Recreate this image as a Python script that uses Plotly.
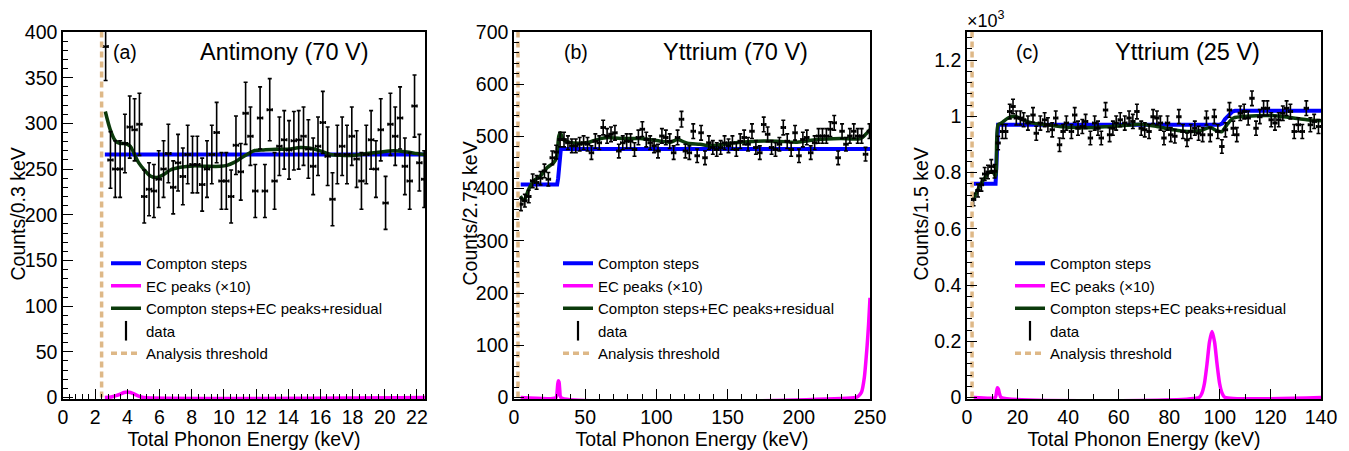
import plotly.graph_objects as go

FONT = "Liberation Sans"
BLUE = "#0000ff"
MAGENTA = "#ff00ff"
GREEN = "#0b3a0b"
TAN = "#deb887"
W, H = 1349, 451

# ---------------- Panel (a): Antimony (70 V) ----------------
a_bin_start, a_bin_width, a_nbins = 2.5, 0.3, 67
a_counts = [384, 260, 250, 250, 278, 296, 293, 299, 220, 228, 226, 239, 250, 267, 230,
            257, 242, 266, 255, 255, 233, 250, 266, 290, 237, 237, 220, 276, 247, 311,
            286, 226, 306, 226, 315, 237, 275, 282, 271, 281, 282, 286, 272, 253, 275,
            301, 264, 217, 266, 275, 266, 286, 261, 237, 266, 282, 250, 293, 213, 299,
            286, 306, 253, 237, 319, 257, 239]
a_err = [37, 31, 31, 31, 32, 34, 34, 34, 29, 29, 29, 31, 31, 32, 29,
         31, 31, 32, 31, 31, 29, 31, 32, 33, 31, 31, 29, 32, 31, 34,
         32, 29, 34, 29, 34, 31, 32, 32, 32, 32, 32, 32, 32, 31, 32,
         34, 32, 29, 32, 32, 32, 32, 31, 31, 32, 32, 31, 34, 29, 34,
         32, 34, 31, 31, 34, 31, 31]
a_step_x = [2.6, 22.5]
a_step_y = [266, 266]
a_ec_x = [2.6, 3.0, 3.3, 3.6, 3.8, 4.0, 4.2, 4.4, 4.7, 5.0, 22.5]
a_ec_y = [0, 0.5, 2, 4, 5.5, 6, 5.5, 4, 1.5, 0, 0]
a_tot_x = [2.63, 2.94, 3.25, 3.56, 3.87, 4.18, 4.39, 4.70, 5.01, 5.43, 5.84, 6.26, 6.67,
           7.29, 8.12, 8.95, 9.78, 10.19, 10.61, 11.02, 11.44, 11.85, 12.47, 13.30,
           14.13, 14.75, 15.37, 15.99, 16.61, 17.24, 18.07, 18.89, 19.72, 20.55,
           21.38, 22.0, 22.46]
a_tot_y = [313, 293, 281, 278, 278, 275, 268, 257, 250, 242.5, 240.7, 244, 249,
           252, 253.5, 253, 253, 254, 257, 261.5, 266, 270, 271, 271.6,
           272, 273.5, 272.7, 270, 266, 265, 265, 267, 268.7, 270,
           268.7, 267, 266]
a_threshold = 2.4

# ---------------- Panel (b): Yttrium (70 V) ----------------
b_bin_start, b_bin_width, b_nbins = 3.5, 2.75, 90
b_counts = [370, 377, 385, 415, 412, 420, 434, 418, 459, 470,
            494, 494, 488, 482, 482, 485, 488, 485, 469, 491,
            488, 517, 501, 504, 507, 472, 488, 491, 491, 475,
            498, 514, 494, 488, 482, 472, 501, 498, 491, 469,
            498, 533, 472, 469, 510, 463, 507, 459, 488, 479,
            475, 479, 488, 482, 488, 475, 491, 498, 485, 510,
            479, 469, 523, 504, 479, 475, 485, 517, 491, 475,
            507, 463, 494, 498, 469, 488, 501, 501, 501, 514,
            526, 459, 510, 485, 501, 510, 501, 501, 466, 510]
b_err = [12, 12, 12, 13, 13, 13, 13, 13, 13, 13,
         14, 14, 13, 13, 13, 13, 13, 13, 13, 14,
         13, 14, 14, 14, 14, 13, 13, 14, 14, 13,
         14, 14, 14, 13, 13, 13, 14, 14, 14, 13,
         14, 15, 13, 13, 14, 13, 14, 13, 13, 13,
         13, 13, 13, 13, 13, 13, 14, 14, 13, 14,
         13, 13, 14, 14, 13, 13, 13, 14, 14, 13,
         14, 13, 14, 14, 13, 13, 14, 14, 14, 14,
         14, 13, 14, 13, 14, 14, 14, 14, 13, 14]
b_step_x = [4.7, 30.3, 31.0, 31.6, 32.3, 32.9, 250]
b_step_y = [408, 408, 420, 440, 462, 476, 476]
b_ec_x = [4.7, 29.5, 30.3, 31.0, 31.6, 32.2, 33.0, 240, 242, 244, 246, 248, 249, 250]
b_ec_y = [0, 0, 12, 32, 30, 12, 0, 0, 3, 10, 38, 100, 140, 191]
b_tot_x = [4.5, 7.0, 10.3, 13.8, 18.5, 23.2, 27.9, 29.8, 31.5, 32.6, 34.5, 38.5, 46.7,
           52.6, 58.5, 65.5, 74.9, 89, 103, 110, 114.8, 121.8, 130.7, 137.8, 147.2,
           158.9, 170.6, 184.7, 198.8, 212.9, 229.3, 243.4, 247, 250]
b_tot_y = [386, 377, 399, 415, 424, 440, 450, 459, 501, 507, 494, 489, 487,
           489, 494, 498, 496, 496, 491, 489, 494, 487, 485, 482, 485,
           489, 491, 491, 489, 494, 496, 496, 504, 513]
b_threshold = 2.8

# ---------------- Panel (c): Yttrium (25 V), counts in units of 10^3 ----------------
c_energy = [2.6, 4.35, 5.7, 7.0, 8.3, 9.6, 10.9, 12.3, 14.0, 15.3, 16.9, 18.2, 19.5,
            21.1, 22.4, 24.1, 26.1, 27.4, 29.0, 30.7, 32.0, 33.7, 35.1, 36.6, 38.0,
            39.3, 41.3, 42.6, 43.9, 45.6, 46.9, 48.8, 50.5, 51.8, 53.1, 54.8, 56.4,
            57.7, 59.0, 60.6, 62.4, 64.1, 65.6, 67.2, 68.9, 70.3, 72.0, 73.6, 75.1,
            76.5, 77.9, 79.3, 80.6, 82.2, 83.8, 85.4, 87.0, 88.5, 90.1, 91.6, 93.2,
            94.7, 96.2, 97.8, 99.2, 100.8, 102.2, 103.8, 105.3, 106.7, 108.1, 109.6,
            111.2, 112.7, 114.3, 115.8, 117.3, 118.8, 120.3, 121.8, 123.3, 124.9,
            126.4, 127.9, 129.4, 131.0, 132.6, 134.2, 135.8, 137.3, 139.0]
c_counts = [0.704, 0.736, 0.757, 0.795, 0.802, 0.822, 0.805, 0.905, 0.946, 0.946,
            1.017, 1.035, 0.994, 0.994, 0.988, 0.976, 1.005, 0.940, 0.976, 0.988,
            0.970, 0.952, 0.994, 0.899, 0.946, 0.976, 0.946, 1.005, 0.958, 0.964,
            0.982, 0.923, 0.976, 0.958, 0.923, 1.023, 0.935, 0.958, 0.976, 0.988,
            0.976, 0.994, 0.982, 1.017, 0.958, 0.952,
            0.946, 0.999, 0.994, 0.976, 0.923, 0.976, 0.935, 0.929, 0.999, 0.946,
            0.917, 0.946, 0.958, 0.940, 0.935, 0.994, 0.935, 0.999, 0.946, 0.893,
            0.952, 1.023, 0.958, 0.935, 1.011, 1.017, 0.994, 1.064, 0.958, 0.999,
            1.029, 1.029, 0.988, 0.976, 0.988, 1.011, 1.029, 1.017, 0.946, 0.970,
            0.946, 1.029, 0.970, 0.982, 0.964]
c_err = [0.022, 0.023, 0.023, 0.023, 0.024, 0.024, 0.024, 0.024, 0.025, 0.025,
         0.026, 0.026, 0.025, 0.025, 0.025, 0.025, 0.026, 0.025, 0.025, 0.025,
         0.025, 0.025, 0.025, 0.024, 0.025, 0.025, 0.025, 0.026, 0.025, 0.025,
         0.025, 0.024, 0.025, 0.025, 0.024, 0.026, 0.025, 0.025, 0.025, 0.025,
         0.025, 0.025, 0.025, 0.026, 0.025, 0.025,
         0.025, 0.025, 0.025, 0.025, 0.024, 0.025, 0.025, 0.024, 0.025, 0.025,
         0.024, 0.025, 0.025, 0.025, 0.025, 0.025, 0.025, 0.025, 0.025, 0.024,
         0.025, 0.026, 0.025, 0.025, 0.026, 0.026, 0.025, 0.026, 0.025, 0.025,
         0.026, 0.026, 0.025, 0.025, 0.025, 0.026, 0.026, 0.026, 0.025, 0.025,
         0.025, 0.026, 0.025, 0.025, 0.025]
c_bin_width = 1.5
c_step_x = [2.7, 11.3, 11.8, 12.3, 99.8, 101.0, 102.0, 103.0, 104.0, 105.0, 106.0, 140]
c_step_y = [0.760, 0.760, 0.865, 0.970, 0.970, 0.975, 0.990, 1.000, 1.010, 1.017, 1.020, 1.020]
c_ec_x = [2.7, 11.2, 11.6, 12.0, 12.4, 12.9, 13.5, 91.9, 92.9, 93.9, 94.9, 95.9, 96.9,
          97.9, 98.9, 99.9, 100.9, 101.9, 140]
c_ec_y = [0, 0, 0.015, 0.035, 0.030, 0.012, 0, 0.001, 0.015, 0.05, 0.118, 0.198, 0.235,
          0.198, 0.118, 0.05, 0.015, 0.001, 0]
c_tot_x = [2.4, 5.0, 7.0, 9.0, 10.3, 11.3, 12.3, 13.6, 16.2, 18.9, 22.1, 26.1, 31.4,
           36.6, 43.2, 49.8, 56.4, 63.0, 68.5, 75.1, 81.7, 87.0, 92.2, 96.2, 98.8,
           100.8, 102.8, 105.4, 110.7, 118.6, 123.9, 129.1, 134.4, 140]
c_tot_y = [0.704, 0.752, 0.781, 0.802, 0.802, 0.787, 0.970, 0.976, 0.994, 1.0, 0.988,
           0.976, 0.970, 0.964, 0.960, 0.960, 0.964, 0.968, 0.972, 0.964, 0.952, 0.946,
           0.949, 0.960, 0.949, 0.946, 0.970, 0.994, 1.0, 1.003, 1.0, 0.994, 0.988, 0.984]
c_threshold = 2.0

NAMES = ["Compton steps", "EC peaks (\u00d710)", "Compton steps+EC peaks+residual",
         "data", "Analysis threshold"]
Y_TITLES = ["Counts/0.3 keV", "Counts/2.75 keV", "Counts/1.5 keV"]

fig = go.Figure()


def centres(start, width, n):
    return [start + width * (i + 0.5) for i in range(n)]


def add_panel(k, ex, ey, eerr, xhalf, sx, sy, px, py, tx, ty, thr, ymax, leg):
    xa = "x" if k == 1 else f"x{k}"
    ya = "y" if k == 1 else f"y{k}"
    common = dict(xaxis=xa, yaxis=ya, legend=leg)
    fig.add_trace(go.Scatter(x=sx, y=sy, mode="lines", name=NAMES[0],
                             line=dict(color=BLUE, width=4), **common))
    fig.add_trace(go.Scatter(x=px, y=py, mode="lines", name=NAMES[1],
                             line=dict(color=MAGENTA, width=3.5, shape="spline", smoothing=0.6), **common))
    fig.add_trace(go.Scatter(x=tx, y=ty, mode="lines", name=NAMES[2],
                             line=dict(color=GREEN, width=3.5, shape="spline", smoothing=0.8), **common))
    fig.add_trace(go.Scatter(x=ex, y=ey, mode="markers", showlegend=False,
                             marker=dict(color="black", size=3),
                             error_y=dict(type="data", array=eerr, color="black", thickness=1.6, width=2),
                             error_x=dict(type="constant", value=xhalf, color="black", thickness=1.6, width=1.5),
                             **common))
    fig.add_trace(go.Scatter(x=[None], y=[None], mode="markers", name=NAMES[3],
                             marker=dict(symbol="line-ns", size=14, color="black",
                                         line=dict(width=2.2, color="black")), **common))
    fig.add_trace(go.Scatter(x=[thr, thr], y=[0, ymax], mode="lines", name=NAMES[4],
                             line=dict(color=TAN, width=3.5, dash="6px,4px"), **common))


add_panel(1, centres(a_bin_start, a_bin_width, a_nbins), a_counts, a_err, a_bin_width / 2,
          a_step_x, a_step_y, a_ec_x, a_ec_y, a_tot_x, a_tot_y, a_threshold, 400, "legend")
add_panel(2, centres(b_bin_start, b_bin_width, b_nbins), b_counts, b_err, b_bin_width / 2,
          b_step_x, b_step_y, b_ec_x, b_ec_y, b_tot_x, b_tot_y, b_threshold, 700, "legend2")
add_panel(3, c_energy, c_counts, c_err, c_bin_width / 2,
          c_step_x, c_step_y, c_ec_x, c_ec_y, c_tot_x, c_tot_y, c_threshold, 1.3, "legend3")

TICKF = dict(family=FONT, size=19.5, color="black")


def xax(dom, rng, dtick, minor, anchor, title_standoff=4):
    return dict(domain=dom, range=rng, dtick=dtick, tick0=0, ticks="inside", ticklen=10,
                tickwidth=1.2, tickcolor="black", anchor=anchor, automargin=False,
                minor=dict(dtick=minor, tick0=0, ticks="inside", ticklen=5, tickwidth=1.2, tickcolor="black"),
                showline=True, linecolor="black", linewidth=1.5, mirror=True,
                showgrid=False, zeroline=False, tickfont=TICKF,
                title=dict(text="Total Phonon Energy (keV)", font=TICKF, standoff=title_standoff))


def yax(dom, rng, dtick, minor, anchor):
    return dict(domain=dom, range=rng, dtick=dtick, tick0=0, ticks="inside", ticklen=10,
                tickwidth=1.2, tickcolor="black", anchor=anchor, automargin=False,
                minor=dict(dtick=minor, tick0=0, ticks="inside", ticklen=5, tickwidth=1.2, tickcolor="black"),
                showline=True, linecolor="black", linewidth=1.5, mirror=True,
                showgrid=False, zeroline=False, tickfont=TICKF)


ydom = [(H - 399) / H, (H - 32) / H]

LEGF = dict(family=FONT, size=15, color="black")


def legend(xpix, ypix):
    return dict(x=xpix / W, y=1 - ypix / H, xanchor="left", yanchor="top", font=LEGF,
                bgcolor="rgba(0,0,0,0)", borderwidth=0, itemwidth=30, tracegroupgap=0)


def ann(text, xpix, ypix, size, xanchor="center", angle=0):
    return dict(text=text, x=xpix / W, y=1 - ypix / H, xref="paper", yref="paper",
                xanchor=xanchor, yanchor="middle", showarrow=False, textangle=angle,
                font=dict(family=FONT, size=size, color="black"))


fig.update_layout(
    width=W, height=H, margin=dict(l=0, r=0, t=0, b=0, autoexpand=False),
    paper_bgcolor="white", plot_bgcolor="white",
    font=dict(family=FONT, color="black"),
    xaxis=xax([63 / W, 425 / W], [0, 22.5], 2, 0.4, "y"),
    yaxis=yax(ydom, [-1.6, 400], 50, 10, "x"),
    xaxis2=xax([514 / W, 870 / W], [0, 250], 50, 10, "y2"),
    yaxis2=yax(ydom, [-2.8, 700], 100, 20, "x2"),
    xaxis3=xax([967 / W, 1321 / W], [0, 140], 20, 10, "y3"),
    yaxis3=yax(ydom, [-0.0052, 1.3], 0.2, 0.04, "x3"),
    legend=legend(106, 247),
    legend2=legend(558, 247),
    legend3=legend(1010, 247),
    annotations=[
        ann("(a)", 124.5, 52, 19.5), ann("Antimony (70 V)", 284, 52, 23.5),
        ann("(b)", 576, 52, 19.5), ann("Yttrium (70 V)", 736, 52, 23.5),
        ann("(c)", 1027.5, 52, 19.5), ann("Yttrium (25 V)", 1187.5, 52, 23.5),
        ann("\u00d710<sup>3</sup>", 965, 20, 18, xanchor="left"),
        ann(Y_TITLES[0], 17.5, 214, 19.5, angle=-90),
        ann(Y_TITLES[1], 469.5, 214, 19.5, angle=-90),
        ann(Y_TITLES[2], 920.5, 214, 19.5, angle=-90),
    ],
)

fig.write_html("out.html", config={"displayModeBar": False},
               post_script="document.body.style.margin='0px';document.body.style.padding='0px';")
